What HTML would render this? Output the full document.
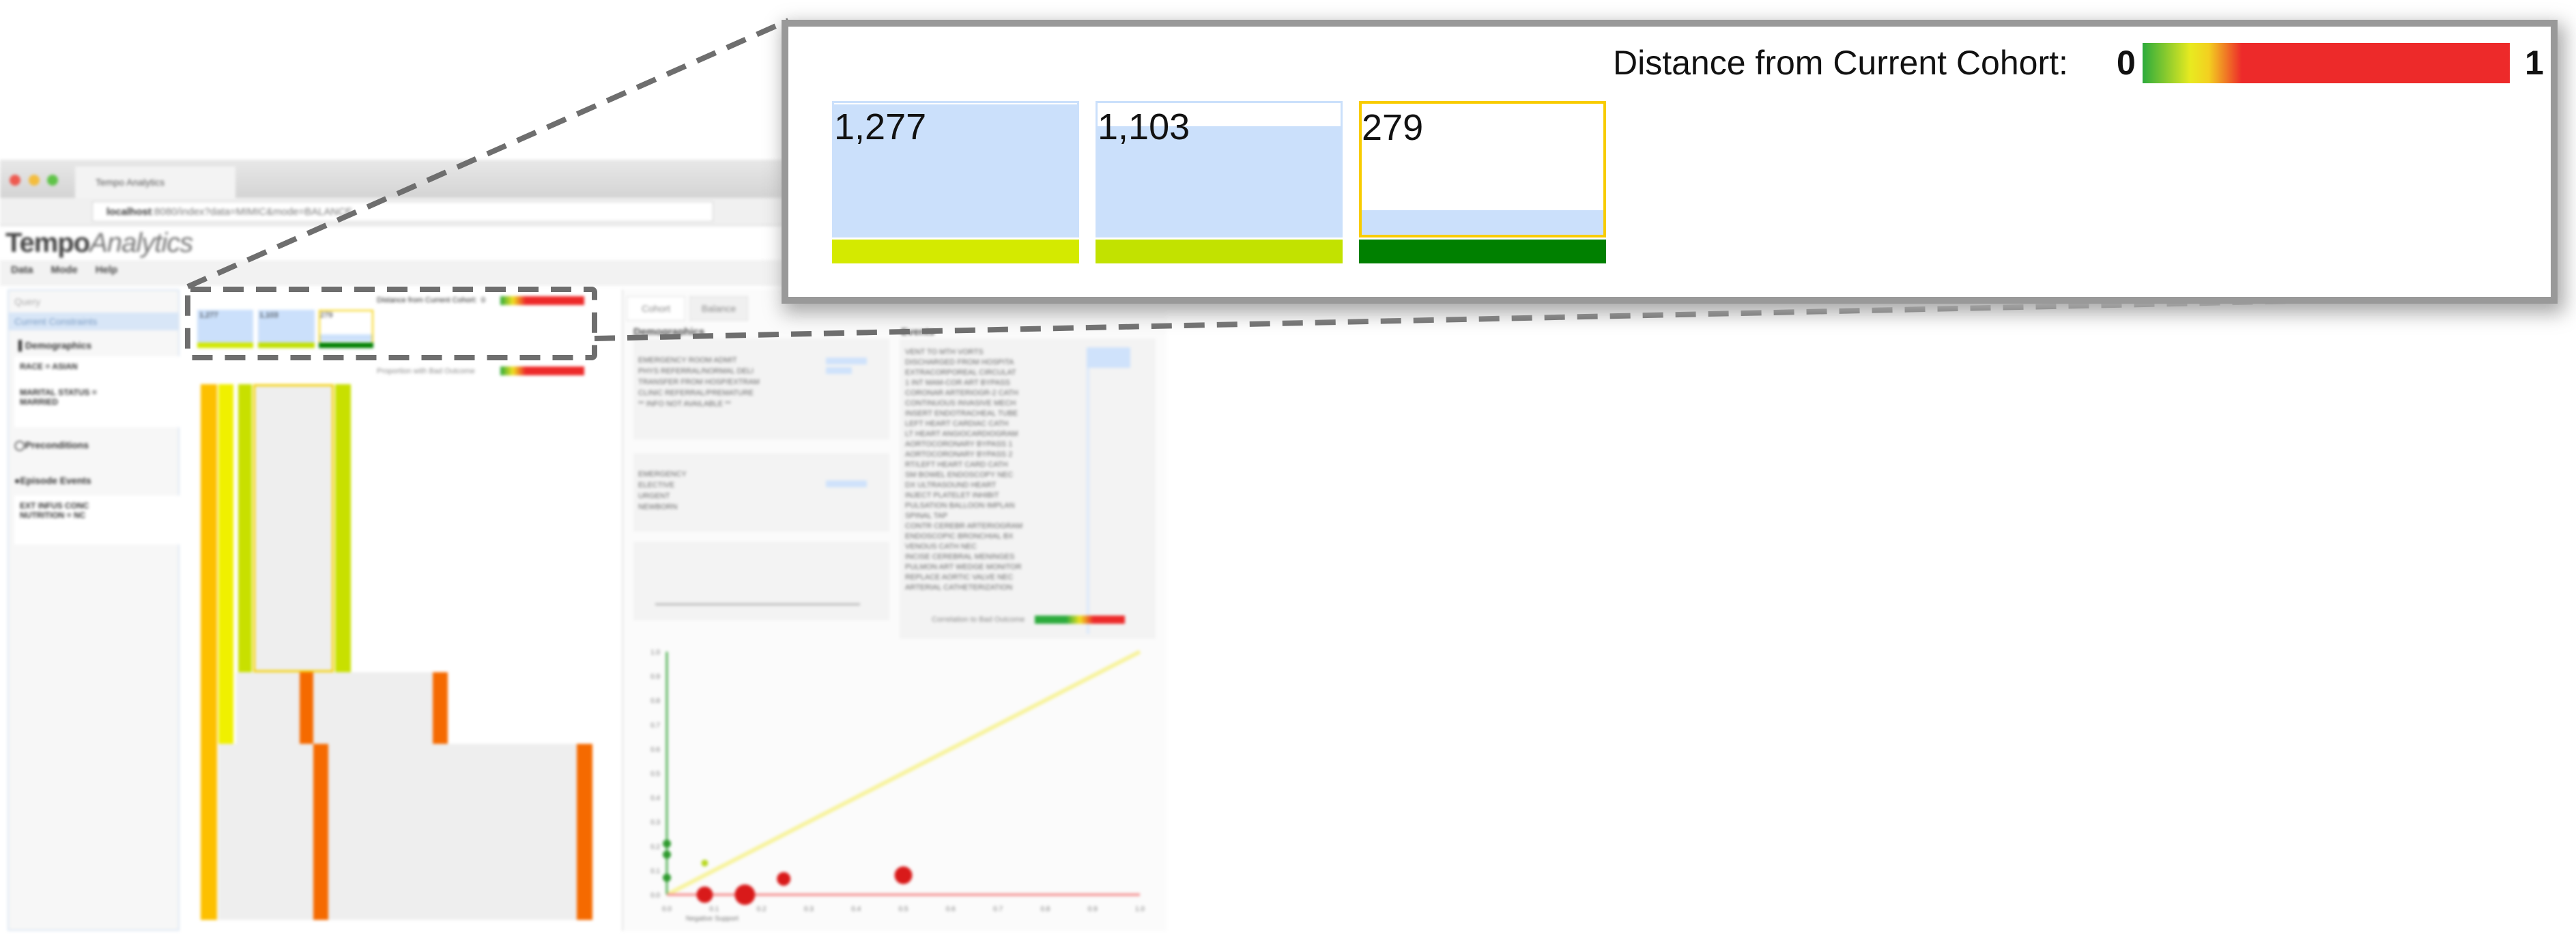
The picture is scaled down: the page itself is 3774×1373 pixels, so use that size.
<!DOCTYPE html>
<html><head><meta charset="utf-8">
<style>
body{margin:0;width:3774px;height:1373px;background:#fff;position:relative;overflow:hidden;font-family:"Liberation Sans",sans-serif}
.a{position:absolute}
#shot{position:absolute;left:0;top:234px;width:1709px;height:1139px;filter:blur(2px);overflow:hidden}
.t{position:absolute;font-size:11px;color:#666;white-space:nowrap}
</style></head><body>
<div id="shot">
  <div class="a" style="left:0;top:0;width:1709px;height:56px;background:linear-gradient(#e8e8e8,#d4d4d4)"></div>
  <div class="a" style="left:14px;top:22px;width:16px;height:16px;border-radius:50%;background:#ee5a50"></div>
  <div class="a" style="left:42px;top:22px;width:16px;height:16px;border-radius:50%;background:#f4bd3d"></div>
  <div class="a" style="left:69px;top:22px;width:16px;height:16px;border-radius:50%;background:#5fc348"></div>
  <div class="a" style="left:110px;top:10px;width:235px;height:46px;background:#f3f3f3;font-size:14px;color:#555;line-height:46px;padding-left:30px;box-sizing:border-box">Tempo Analytics</div>
  <div class="a" style="left:0;top:56px;width:1709px;height:40px;background:#f0f0f0;border-bottom:1px solid #ccc"></div>
  <div class="a" style="left:135px;top:61px;width:910px;height:30px;background:#fff;border:1px solid #ccc;font-size:15px;line-height:30px;color:#777;padding-left:20px;box-sizing:border-box"><b style="color:#333">localhost</b>:8080/index?data=MIMIC&amp;mode=BALANCE</div>
  <div class="a" style="left:8px;top:100px;font-size:40px;color:#444;letter-spacing:-1px"><b>Tempo</b><i style="color:#777">Analytics</i></div>
  <div class="a" style="left:0;top:147px;width:1709px;height:38px;background:#f2f2f2;font-size:15px;font-weight:bold;color:#444;line-height:30px"><span style="margin-left:16px">Data</span><span style="margin-left:26px">Mode</span><span style="margin-left:26px">Help</span></div>
  <div class="a" style="left:11px;top:190px;width:252px;height:940px;background:#f7f7f7;border:2px solid #dbe6f3;box-sizing:border-box">
    <div class="t" style="left:8px;top:8px;font-size:14px;color:#aaa">Query</div>
    <div class="a" style="left:0;top:32px;width:248px;height:26px;background:#d8e6f7;font-size:14px;color:#7a9cc4;line-height:26px;padding-left:8px;box-sizing:border-box">Current Constraints</div>
    <div class="t" style="left:14px;top:72px;font-size:14px;font-weight:bold;color:#333">▌Demographics</div>
    <div class="a" style="left:8px;top:96px;width:230px;height:34px;background:#fff;font-size:12px;font-weight:bold;color:#333;padding:8px">RACE = ASIAN</div>
    <div class="a" style="left:8px;top:134px;width:230px;height:50px;background:#fff;font-size:12px;font-weight:bold;color:#333;padding:8px">MARITAL STATUS =<br>MARRIED</div>
    <div class="t" style="left:8px;top:218px;font-size:14px;font-weight:bold;color:#333">◯Preconditions</div>
    <div class="t" style="left:8px;top:270px;font-size:14px;font-weight:bold;color:#333">●Episode Events</div>
    <div class="a" style="left:8px;top:300px;width:230px;height:56px;background:#fff;font-size:12px;font-weight:bold;color:#333;padding:8px">EXT INFUS CONC<br>NUTRITION = NC</div>
  </div>
  <div class="a" style="left:289px;top:220px;width:82px;height:54px;background:#cbe0fb"></div>
  <div class="a" style="left:289px;top:268px;width:82px;height:8px;background:#d2e800"></div>
  <div class="a" style="left:378px;top:220px;width:83px;height:54px;background:#cbe0fb"></div>
  <div class="a" style="left:378px;top:268px;width:83px;height:8px;background:#c2e000"></div>
  <div class="a" style="left:467px;top:220px;width:80px;height:54px;background:#fff;border:2px solid #f5d000;box-sizing:border-box"></div>
  <div class="a" style="left:469px;top:256px;width:76px;height:10px;background:#cbe0fb"></div>
  <div class="a" style="left:467px;top:268px;width:80px;height:8px;background:#008000"></div>
  <div class="t" style="left:292px;top:222px;color:#222">1,277</div><div class="t" style="left:380px;top:222px;color:#222">1,103</div><div class="t" style="left:469px;top:222px;color:#222">279</div>
  <div class="t" style="left:552px;top:200px;color:#222">Distance from Current Cohort:&nbsp; 0</div>
  <div class="a" style="left:733px;top:200px;width:123px;height:13px;background:linear-gradient(90deg,#2cab3c,#f0e020 15%,#ed2a2a 30%,#ed2a2a)"></div>
  <div class="t" style="left:552px;top:304px;color:#888">Proportion with Bad Outcome</div>
  <div class="a" style="left:733px;top:303px;width:123px;height:13px;background:linear-gradient(90deg,#2cab3c,#f0e020 15%,#ed2a2a 30%,#ed2a2a)"></div>
  <div class="a" style="left:294px;top:329px;width:24px;height:785px;background:#fdc000"></div>
  <div class="a" style="left:320px;top:329px;width:22px;height:527px;background:#f0f000"></div>
  <div class="a" style="left:349px;top:329px;width:20px;height:422px;background:#c8e000"></div>
  <div class="a" style="left:371px;top:329px;width:118px;height:422px;background:#eee;border:3px solid #f5d000;box-sizing:border-box"></div>
  <div class="a" style="left:491px;top:329px;width:23px;height:422px;background:#c8e000"></div>
  <div class="a" style="left:346px;top:751px;width:310px;height:105px;background:#eee"></div>
  <div class="a" style="left:439px;top:751px;width:20px;height:105px;background:#f56a00"></div>
  <div class="a" style="left:634px;top:751px;width:22px;height:105px;background:#f56a00"></div>
  <div class="a" style="left:320px;top:856px;width:548px;height:258px;background:#eee"></div>
  <div class="a" style="left:459px;top:856px;width:22px;height:258px;background:#f56a00"></div>
  <div class="a" style="left:845px;top:856px;width:23px;height:258px;background:#f56a00"></div>
  <div class="a" style="left:911px;top:190px;width:798px;height:940px;background:#fbfbfb;border-left:2px solid #e4e4e4"></div>
  <div class="a" style="left:918px;top:200px;width:84px;height:34px;background:#fff;border:1px solid #ddd;font-size:14px;color:#888;line-height:34px;text-align:center">Cohort</div>
  <div class="a" style="left:1010px;top:200px;width:84px;height:34px;background:#f0f0f0;border:1px solid #ddd;font-size:14px;color:#888;line-height:34px;text-align:center">Balance</div>
  <div class="t" style="left:928px;top:244px;font-size:15px;font-weight:bold;color:#444">Demographics</div>
  <div class="t" style="left:1320px;top:244px;font-size:15px;font-weight:bold;color:#444">Events</div>
  <div class="a" style="left:928px;top:262px;width:375px;height:148px;background:#f3f3f3"></div>
  <div class="a" style="left:928px;top:430px;width:375px;height:115px;background:#f3f3f3"></div>
  <div class="a" style="left:928px;top:560px;width:375px;height:115px;background:#f3f3f3"></div>
  <div class="a" style="left:1318px;top:262px;width:375px;height:440px;background:#f3f3f3"></div>
  <div class="a" style="left:1210px;top:290px;width:60px;height:10px;background:#cfe2fb"></div>
  <div class="a" style="left:1210px;top:304px;width:38px;height:10px;background:#cfe2fb"></div>
  <div class="a" style="left:1210px;top:470px;width:60px;height:10px;background:#cfe2fb"></div>
  <div class="a" style="left:1592px;top:275px;width:64px;height:30px;background:#cfe2fb"></div>
  <div class="a" style="left:1592px;top:305px;width:4px;height:390px;background:#dde9fa"></div>
  <div class="a" style="left:960px;top:650px;width:300px;height:3px;background:#bbb"></div>
  <div id="rows"></div>
  <div class="t" style="left:1365px;top:668px;color:#888">Correlation to Bad Outcome</div>
  <div class="a" style="left:1516px;top:668px;width:132px;height:12px;background:linear-gradient(90deg,#2cab3c,#2cab3c 35%,#f0e020 50%,#ed2a2a 65%,#ed2a2a)"></div>
  <svg id="sc" class="a" style="left:911px;top:700px" width="798" height="430"></svg>
</div>
<svg class="a" style="left:0;top:0" width="3774" height="1373">
  <g stroke="#6e6e6e" stroke-width="8" stroke-dasharray="30,18" fill="none">
    <rect x="275" y="424" width="596" height="100" rx="4"/>
    <line x1="275" y1="420" x2="1155" y2="30"/>
    <line x1="871" y1="496" x2="3731" y2="433"/>
  </g>
</svg>
<div class="a" style="left:1155px;top:39px;width:2582px;height:396px;background:#fff;box-shadow:0 0 0 10px #999,6px 10px 26px 14px #aaa">
  <div class="a" style="left:1208px;top:24px;font-size:50px;color:#111">Distance from Current Cohort:</div>
  <div class="a" style="left:1946px;top:24px;font-size:50px;font-weight:bold;color:#111">0</div>
  <div class="a" style="left:1984px;top:24px;width:538px;height:59px;background:linear-gradient(90deg,#2cab3c,#e8ea20 13%,#f3d020 18%,#ed2a2a 27%,#ed2a2a)"></div>
  <div class="a" style="left:2544px;top:24px;font-size:50px;font-weight:bold;color:#111">1</div>
  <div id="cohorts"></div>
</div>
<script>
const cohortCounts=[1277,1103,279];
const cohortFill=[1.0,0.835,0.19];
const cohortColors=['#d4ea00','#c2e200','#008000'];
const box=document.getElementById('cohorts');
cohortCounts.forEach((c,i)=>{
  const x=64+i*386, w=362, top=109, h=200;
  const o=document.createElement('div');o.className='a';
  o.style.cssText=`left:${x}px;top:${top}px;width:${w}px;height:${h}px;background:#fff;box-sizing:border-box;border:${i==2?'4px solid #f8cc00':'3px solid #cbe0fb'}`;
  
  
  const f=document.createElement('div');f.className='a';
  const fh=(h-8)*cohortFill[i];
  f.style.cssText=`left:0;bottom:0;width:100%;height:${fh}px;background:#cbe0fb`;
  o.appendChild(f);
  const t=document.createElement('div');t.className='a';
  t.style.cssText='left:0;top:4px;font-size:54px;color:#111';
  t.textContent=c.toLocaleString('en-US');
  
  
  o.appendChild(t);box.appendChild(o);
  const b=document.createElement('div');b.className='a';
  b.style.cssText=`left:${x}px;top:${top+203}px;width:${w}px;height:35px;background:${cohortColors[i]}`;
  
  
  box.appendChild(b);
});
const rowsEl=document.getElementById('rows');
const demo=['EMERGENCY ROOM ADMIT','PHYS REFERRAL/NORMAL DELI','TRANSFER FROM HOSP/EXTRAM','CLINIC REFERRAL/PREMATURE','** INFO NOT AVAILABLE **'];
demo.forEach((s,i)=>{const d=document.createElement('div');d.className='t';d.style.left='935px';d.style.top=(288+i*16)+'px';d.textContent=s;rowsEl.appendChild(d);});
['EMERGENCY','ELECTIVE','URGENT','NEWBORN'].forEach((s,i)=>{const d=document.createElement('div');d.className='t';d.style.left='935px';d.style.top=(455+i*16)+'px';d.textContent=s;rowsEl.appendChild(d);});
const ev=['VENT TO MTH VORTS','DISCHARGED FROM HOSPITA','EXTRACORPOREAL CIRCULAT','1 INT MAM-COR ART BYPASS','CORONAR ARTERIOGR-2 CATH','CONTINUOUS INVASIVE MECH','INSERT ENDOTRACHEAL TUBE','LEFT HEART CARDIAC CATH','LT HEART ANGIOCARDIOGRAM','AORTOCORONARY BYPASS 1','AORTOCORONARY BYPASS 2','RT/LEFT HEART CARD CATH','SM BOWEL ENDOSCOPY NEC','DX ULTRASOUND HEART','INJECT PLATELET INHIBIT','PULSATION BALLOON IMPLAN','SPINAL TAP','CONTR CEREBR ARTERIOGRAM','ENDOSCOPIC BRONCHIAL BX','VENOUS CATH NEC','INCISE CEREBRAL MENINGES','PULMON ART WEDGE MONITOR','REPLACE AORTIC VALVE NEC','ARTERIAL CATHETERIZATION'];
ev.forEach((s,i)=>{const d=document.createElement('div');d.className='t';d.style.left='1326px';d.style.top=(276+i*15)+'px';d.textContent=s;rowsEl.appendChild(d);});
// scatter data
const xTicks=[0,0.1,0.2,0.3,0.4,0.5,0.6,0.7,0.8,0.9,1.0];
const yTicks=[0,0.1,0.2,0.3,0.4,0.5,0.6,0.7,0.8,0.9,1.0];
const ptX=[0.08,0.165,0.247,0.5,0,0,0,0.08];
const ptY=[0,0,0.065,0.08,0.21,0.165,0.07,0.13];
const ptR=[12,15,10,13,6,6,6,5];
const ptC=['#d91a1a','#d91a1a','#d91a1a','#d91a1a','#2e9a2e','#2e9a2e','#2e9a2e','#b8d820'];
const svg=document.getElementById('sc');const NS='http://www.w3.org/2000/svg';
const X0=66,X1=759,Y0=377,Y1=21;
const sx=v=>X0+v*(X1-X0), sy=v=>Y0+v*(Y1-Y0);
function el(n,a){const e=document.createElementNS(NS,n);for(const k in a)e.setAttribute(k,a[k]);svg.appendChild(e);return e;}
let l=el('line',{x1:sx(0),y1:sy(0),x2:sx(1),y2:sy(1),stroke:'#f7f39a','stroke-width':6});


l=el('line',{x1:sx(0),y1:sy(0),x2:sx(0),y2:sy(1),stroke:'#4caf50','stroke-width':3});


l=el('line',{x1:sx(0),y1:sy(0),x2:sx(1),y2:sy(0),stroke:'#f59a9a','stroke-width':4});


xTicks.forEach(v=>{const t=el('text',{x:sx(v),y:sy(0)+24,'font-size':10,fill:'#777','text-anchor':'middle'});t.textContent=v.toFixed(1);

});
yTicks.forEach(v=>{const t=el('text',{x:sx(0)-10,y:sy(v)+4,'font-size':10,fill:'#777','text-anchor':'end'});t.textContent=v.toFixed(1);

});
ptX.forEach((v,i)=>{const c=el('circle',{cx:sx(v),cy:sy(ptY[i]),r:ptR[i],fill:ptC[i]});

});
const xt=el('text',{x:sx(0.04),y:sy(0)+38,'font-size':10,fill:'#777'});xt.textContent='Negative Support';


</script>
</body></html>
